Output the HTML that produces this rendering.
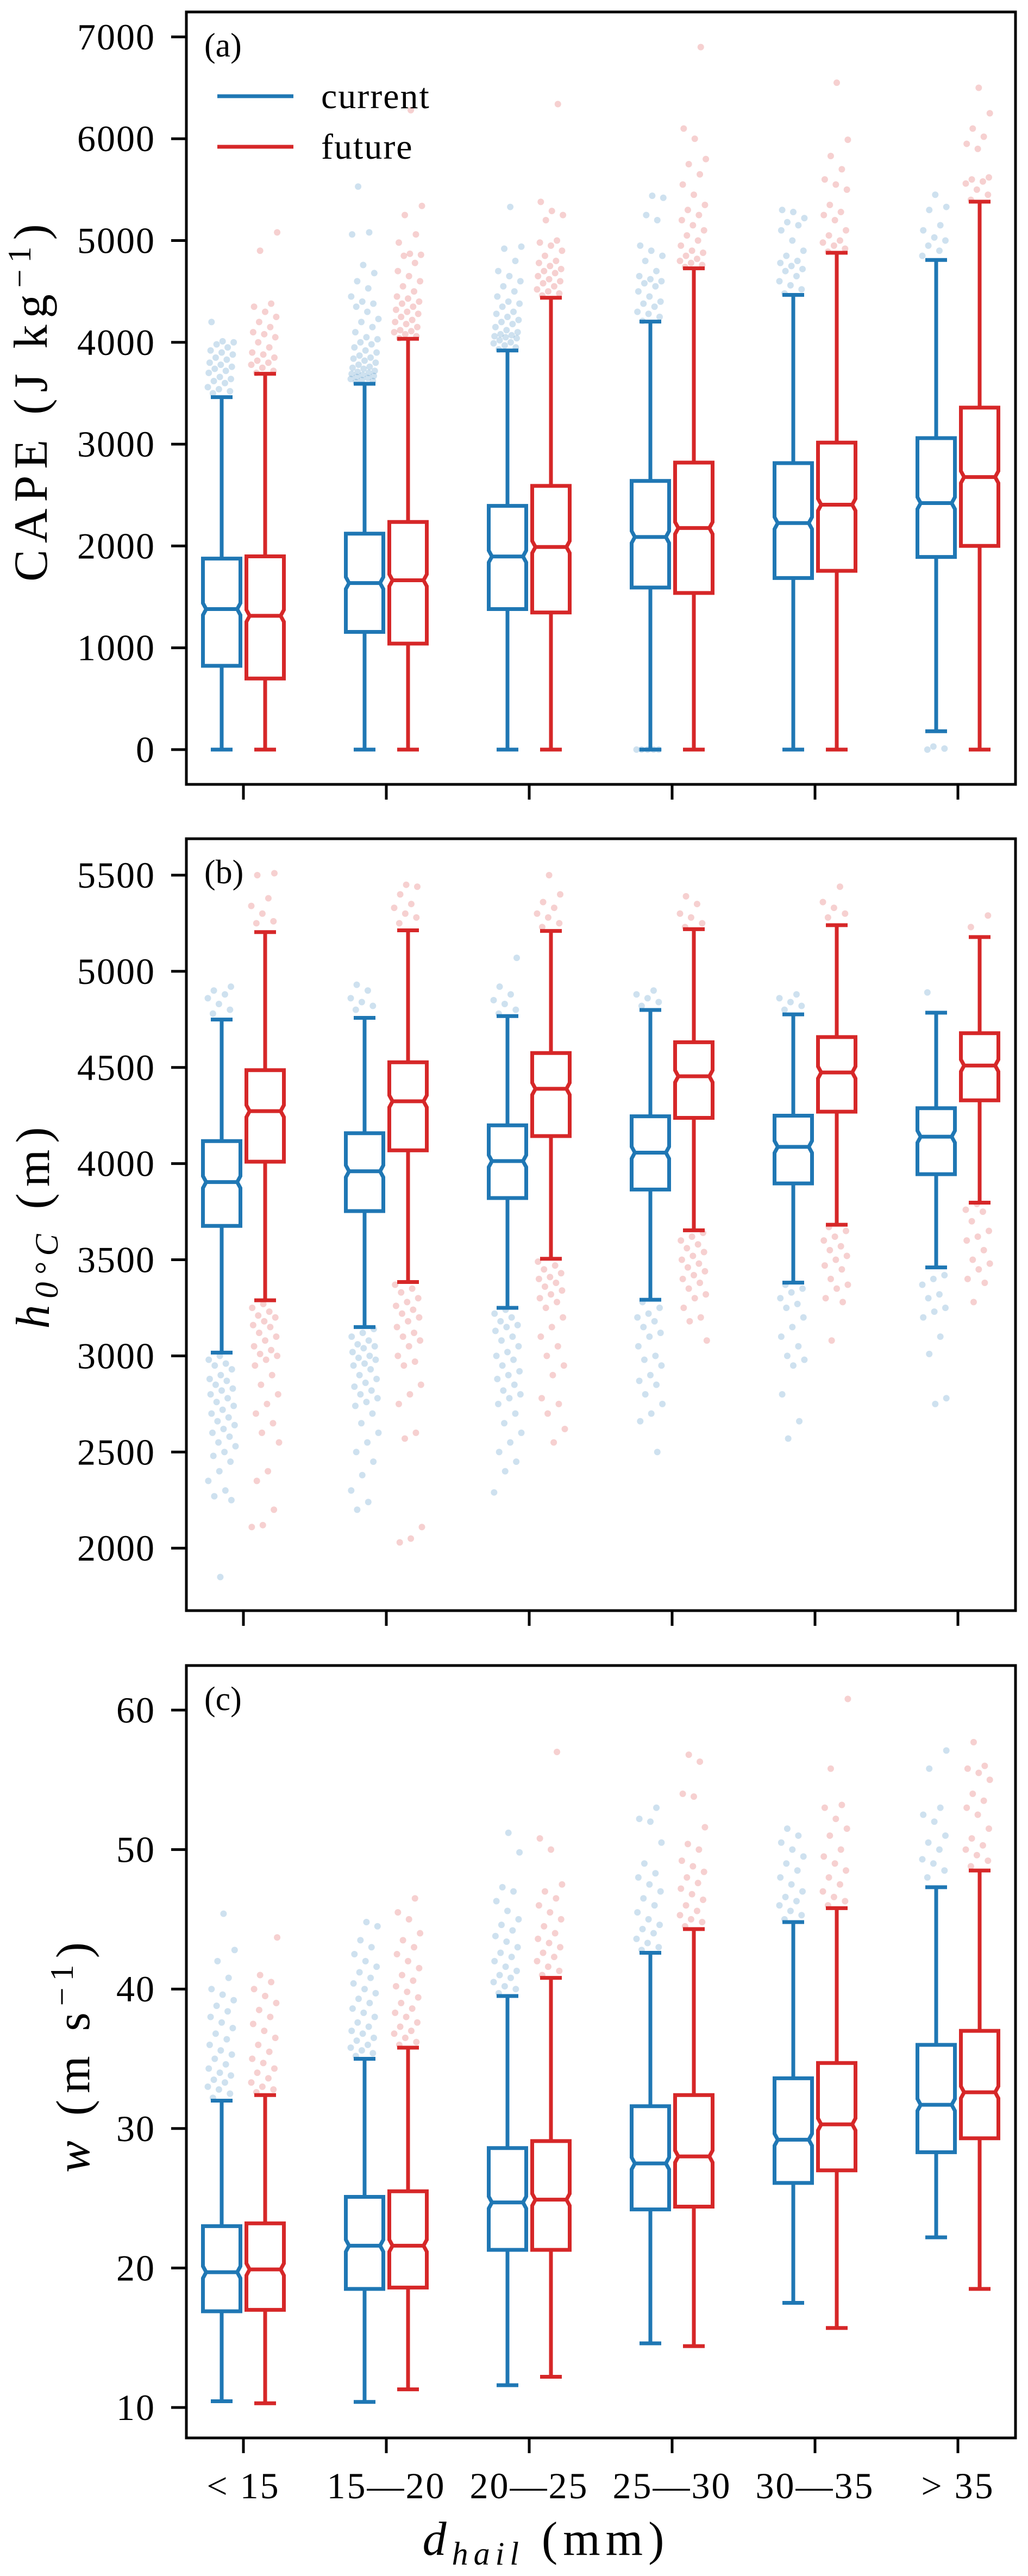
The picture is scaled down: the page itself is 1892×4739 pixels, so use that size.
<!DOCTYPE html>
<html><head><meta charset="utf-8"><style>
html,body{margin:0;padding:0;background:#fff}
svg{display:block;font-family:"Liberation Serif",serif}
</style></head><body>
<svg id="fig" width="1892" height="4739" viewBox="0 0 1892 4739" xmlns="http://www.w3.org/2000/svg">
<rect width="1892" height="4739" fill="#fff"/>
</svg>
<script>
const categories = ["< 15","15\u201420","20\u201425","25\u201430","30\u201435","> 35"];
// [whisker low, Q1, median, Q3, whisker high] per category
const capeCurrent = [[0,823,1380,1876,3462],[0,1156,1636,2121,3593],[0,1380,1897,2394,3920],[0,1592,2088,2639,4204],[0,1685,2225,2814,4466],[180,1892,2421,3059,4809]];
const capeFuture = [[0,698,1314,1898,3691],[0,1041,1663,2236,4035],[0,1347,1990,2590,4438],[0,1538,2176,2819,4727],[0,1756,2405,3015,4880],[0,2001,2677,3359,5382]];
const frzCurrent = [[3017,3676,3904,4117,4749],[3150,3753,3960,4158,4758],[3250,3821,4013,4199,4767],[3292,3865,4057,4246,4799],[3381,3897,4087,4249,4776],[3460,3945,4140,4288,4785]];
const frzFuture = [[3289,4010,4273,4486,5204],[3384,4069,4324,4527,5213],[3505,4143,4389,4575,5210],[3653,4238,4454,4631,5219],[3682,4270,4474,4658,5240],[3797,4329,4510,4678,5178]];
const wCurrent = [[10.45,16.9,19.7,23.0,32.0],[10.4,18.5,21.6,25.1,35.0],[11.6,21.3,24.7,28.6,39.5],[14.6,24.2,27.5,31.6,42.6],[17.5,26.1,29.2,33.6,44.8],[22.2,28.3,31.7,36.0,47.3]];
const wFuture = [[10.3,17.0,19.9,23.2,32.4],[11.3,18.6,21.6,25.5,35.8],[12.2,21.3,24.9,29.1,40.8],[14.4,24.4,28.0,32.4,44.3],[15.7,27.0,30.3,34.7,45.8],[18.5,29.3,32.6,37.0,48.5]];

const capeOutCurrent = [[3500,3520,3540,3560,3600,3620,3640,3660,3700,3720,3740,3760,3780,3800,3830,3850,3880,3900,3920,3950,3980,4000,4010,4200],
[3610,3620,3630,3640,3650,3660,3670,3680,3690,3700,3710,3720,3740,3750,3760,3780,3800,3820,3840,3850,3870,3900,3920,3950,3980,4000,4030,4050,4100,4150,4200,4230,4300,4350,4380,4400,4450,4530,4600,4680,4760,5060,5080,5530],
[3930,3950,3970,3990,4000,4020,4040,4050,4060,4070,4080,4100,4120,4150,4180,4200,4220,4250,4280,4300,4350,4380,4400,4450,4500,4550,4600,4650,4700,4800,4920,4940,5330],
[0,0,0,0,0,4210,4250,4280,4300,4350,4380,4400,4450,4500,4550,4580,4600,4620,4650,4700,4800,4850,4900,4950,5200,5250,5420,5440],
[4480,4520,4560,4600,4650,4700,4720,4750,4780,4800,4850,4900,5000,5100,5150,5180,5220,5280,5300],
[0,10,30,4850,4900,4950,5000,5030,5100,5150,5300,5330,5450]];
const capeOutFuture = [[3700,3720,3750,3780,3800,3820,3850,3880,3900,3950,4000,4050,4080,4100,4150,4200,4250,4300,4350,4380,4900,5080],
[4040,4060,4080,4100,4110,4120,4150,4180,4200,4220,4250,4280,4300,4320,4350,4380,4400,4430,4450,4500,4550,4600,4650,4700,4780,4850,4860,4870,4980,5060,5250,5340,6280],
[4460,4480,4500,4520,4550,4580,4600,4620,4650,4680,4700,4720,4750,4780,4800,4850,4900,4950,4980,5000,5200,5250,5290,5380,6340],
[4740,4760,4780,4800,4820,4850,4880,4900,4950,5000,5050,5100,5150,5200,5250,5300,5350,5450,5550,5650,5750,5800,6000,6100,6900],
[4890,4920,4950,4980,5000,5050,5100,5200,5250,5280,5350,5500,5550,5600,5700,5830,5990,6550],
[5400,5450,5500,5560,5580,5600,5620,5900,5950,6020,6100,6250,6500]];
const frzOutCurrent = [[4780,4800,4830,4860,4880,4900,4920,3000,2980,2960,2950,2930,2900,2880,2870,2850,2830,2820,2800,2780,2760,2740,2720,2700,2680,2660,2640,2620,2600,2580,2550,2530,2500,2480,2450,2400,2350,2300,2270,2250,1850],
[4800,4820,4840,4860,4900,4930,3140,3120,3100,3080,3060,3050,3040,3020,3000,2990,2980,2960,2950,2930,2900,2880,2860,2840,2820,2800,2780,2760,2740,2700,2650,2600,2550,2500,2450,2380,2300,2240,2200],
[4780,4800,4830,4850,4880,4920,5070,3240,3220,3200,3180,3160,3150,3130,3100,3080,3050,3020,3000,2980,2950,2920,2900,2880,2850,2820,2800,2780,2750,2700,2650,2600,2550,2500,2450,2400,2290],
[4820,4840,4860,4880,4900,3280,3250,3220,3200,3180,3150,3120,3100,3050,3000,2980,2950,2900,2870,2850,2800,2750,2700,2660,2500],
[4800,4820,4840,4860,4880,3370,3350,3330,3300,3270,3250,3200,3150,3100,3050,3000,2980,2950,2800,2660,2570],
[4890,3420,3400,3370,3320,3300,3250,3230,3200,3100,3010,2780,2750]];
const frzOutFuture = [[5250,5260,5300,5340,5380,5500,5510,3270,3250,3230,3210,3200,3180,3160,3150,3120,3100,3080,3050,3030,3010,3000,2980,2950,2900,2850,2800,2750,2700,2650,2600,2550,2400,2350,2200,2120,2110],
[5250,5280,5300,5330,5350,5400,5440,5450,3370,3350,3330,3300,3280,3260,3240,3220,3200,3180,3150,3120,3100,3080,3050,3000,2970,2950,2850,2800,2750,2600,2570,2110,2050,2030],
[5230,5250,5280,5300,5330,5360,5400,5500,3490,3470,3450,3430,3410,3400,3380,3360,3340,3320,3300,3280,3250,3200,3150,3100,3050,3000,2950,2900,2780,2750,2700,2620,2550],
[5230,5250,5280,5300,5350,5390,3640,3620,3600,3580,3560,3540,3520,3500,3480,3460,3440,3420,3400,3380,3350,3320,3300,3250,3200,3180,3080],
[5280,5300,5330,5360,5440,3670,3650,3620,3600,3570,3550,3520,3500,3470,3450,3400,3370,3350,3300,3280,3080],
[5230,5290,3790,3760,3750,3700,3650,3620,3600,3550,3500,3480,3450,3400,3380,3280]];
const wOutCurrent = [[32.2,32.5,32.8,33,33.3,33.5,33.8,34,34.3,34.6,35,35.3,35.6,36,36.4,36.8,37.2,37.6,38,38.4,38.8,39.2,39.6,40,40.8,42,42.8,45.4],
[35.2,35.4,35.6,35.8,36,36.3,36.5,36.8,37,37.3,37.6,38,38.3,38.6,39,39.3,39.7,40,40.4,40.8,41.2,41.6,42,42.5,43,43.5,44.5,44.8],
[39.7,40,40.2,40.5,40.8,41,41.3,41.6,42,42.3,42.6,43,43.4,43.8,44.2,44.6,45,45.6,46.3,47,47.3,49.8,51.2],
[42.8,43,43.3,43.6,44,44.3,44.6,45,45.5,46,46.5,47,47.5,48,48.3,49,50.5,52,52.2,53],
[45,45.3,45.6,46,46.3,46.6,47,47.5,48,48.5,49,49.5,50,50.5,51,51.5],
[48,48.5,49,49.3,50,50.5,51,52,52.5,53,55.8,57.1]];
const wOutFuture = [[32.6,32.8,33,33.3,33.6,34,34.3,34.7,35,35.5,36,36.5,37,37.5,38,38.5,39,39.5,40,40.5,41,43.7],
[36,36.2,36.5,36.8,37,37.3,37.6,38,38.3,38.6,39,39.4,39.8,40.2,40.6,41,41.5,42,42.5,43,43.5,44,45,45.5,46.5],
[41,41.3,41.6,42,42.3,42.6,43,43.3,43.6,44,44.5,45,45.5,46,46.5,47,47.5,50,50.8,57],
[44.5,44.8,45,45.3,45.6,46,46.4,46.8,47.2,47.6,48,48.4,48.8,49.2,50,50.4,51.6,53.8,54,56.3,56.8],
[46,46.3,46.6,47,47.5,48,48.5,49,49.5,50,51,51.5,52.2,53,53.2,55.8,60.8],
[48.8,49.2,49.6,50,50.3,50.8,51.5,52.5,53,53.5,54,55,55.5,55.8,56,57.7]];

const capeTicks = [0,1000,2000,3000,4000,5000,6000,7000];
const frzTicks = [2000,2500,3000,3500,4000,4500,5000,5500];
const wTicks = [10,20,30,40,50,60];

const NS = "http://www.w3.org/2000/svg";
const svg = document.getElementById("fig");
const BLUE = "#1f77b4", RED = "#d62728";
const X0 = 343, X1 = 1869;
function xCat(i){ return 448 + i*263; }
function mk(tag, attrs, parent){
  const e = document.createElementNS(NS, tag);
  for (const k in attrs) e.setAttribute(k, attrs[k]);
  (parent||svg).appendChild(e);
  return e;
}
const panels = [
  {key:"cape", top:22, bot:1443, y:v=>1379 - v*0.1873, ticks:capeTicks, cur:capeCurrent, fut:capeFuture, oc:capeOutCurrent, of:capeOutFuture, label:"(a)"},
  {key:"freezing-level", top:1543, bot:2963, y:v=>1610 + (5500-v)*0.35376, ticks:frzTicks, cur:frzCurrent, fut:frzFuture, oc:frzOutCurrent, of:frzOutFuture, label:"(b)"},
  {key:"updraft", top:3064, bot:4485, y:v=>3146 + (60-v)*25.66, ticks:wTicks, cur:wCurrent, fut:wFuture, oc:wOutCurrent, of:wOutFuture, label:"(c)"}
];
function drawBox(g, st, cx, color, y, name){
  const w = 69, L = cx - w/2, R = cx + w/2, ins = 6, n = 11;
  const lo = y(st[0]), q1 = y(st[1]), md = y(st[2]), q3 = y(st[3]), hi = y(st[4]);
  const grp = mk("g", {}, g);
  
  
  mk("line", {x1:cx, y1:q3, x2:cx, y2:hi, stroke:color, "stroke-width":7}, grp);
  mk("line", {x1:cx, y1:q1, x2:cx, y2:lo, stroke:color, "stroke-width":7}, grp);
  mk("line", {x1:cx-20, y1:hi, x2:cx+20, y2:hi, stroke:color, "stroke-width":7}, grp);
  mk("line", {x1:cx-20, y1:lo, x2:cx+20, y2:lo, stroke:color, "stroke-width":7}, grp);
  const pts = [[L,q3],[R,q3],[R,md-n],[R-ins,md],[R,md+n],[R,q1],[L,q1],[L,md+n],[L+ins,md],[L,md-n]];
  mk("polygon", {points:pts.map(p=>p.join(",")).join(" "), fill:"#fff", stroke:color, "stroke-width":7, "stroke-linejoin":"miter"}, grp);
  mk("line", {x1:L+ins, y1:md, x2:R-ins, y2:md, stroke:color, "stroke-width":7}, grp);
}
function drawOut(g, vals, cx, color, y, name){
  const grp = mk("g", {}, g);
  
  
  vals.forEach((v,i)=>{
    const jit = (((i*37 + 11) % 61) - 30) * 0.85;
    const c = mk("circle", {cx:cx + jit, cy:y(v), r:6, fill:color, "fill-opacity":0.22}, grp);
    
    
  });
}
panels.forEach((p, pi)=>{
  const g = mk("g", {});
  
  
  categories.forEach((c,i)=>{
    drawOut(g, p.oc[i], xCat(i)-40, BLUE, p.y, 'outliers-current-' + i);
    drawOut(g, p.of[i], xCat(i)+40, RED, p.y, 'outliers-future-' + i);
  });
  categories.forEach((c,i)=>{
    drawBox(g, p.cur[i], xCat(i)-40, BLUE, p.y, 'box-current-' + i);
    drawBox(g, p.fut[i], xCat(i)+40, RED, p.y, 'box-future-' + i);
  });
  const fr = mk("rect", {x:X0, y:p.top, width:X1-X0, height:p.bot-p.top, fill:"none", stroke:"#000", "stroke-width":5}, g);
  
  
  p.ticks.forEach(t=>{
    const ty = p.y(t);
    const tl = mk("line", {x1:X0-28, y1:ty, x2:X0, y2:ty, stroke:"#000", "stroke-width":5}, g);
    
    
    const tx = mk("text", {x:286, y:ty+23, "text-anchor":"end", "font-size":68, "letter-spacing":2, fill:"#000"}, g);
    tx.textContent = t;
    
    
  });
  categories.forEach((c,i)=>{
    const tl = mk("line", {x1:xCat(i), y1:p.bot, x2:xCat(i), y2:p.bot+28, stroke:"#000", "stroke-width":5}, g);
    
    
    if (pi === 2){
      const tx = mk("text", {x:xCat(i), y:4596, "text-anchor":"middle", "font-size":68, "letter-spacing":3, fill:"#000"}, g);
      tx.textContent = c;
      
      
    }
  });
  const pl = mk("text", {x:376, y:p.top+82, "font-size":62, fill:"#000"}, g);
  pl.textContent = p.label;
  
  
});
</script>
<svg style="position:absolute;left:0;top:0" width="1892" height="4739">
  <g font-family="Liberation Serif, serif" font-size="66" letter-spacing="2">
    <line x1="400" y1="177" x2="540" y2="177" stroke="#1f77b4" stroke-width="7"/>
    <text x="591" y="199">current</text>
    <line x1="400" y1="270" x2="540" y2="270" stroke="#d62728" stroke-width="7"/>
    <text x="591" y="292">future</text>
  </g>
  <text transform="translate(86,735) rotate(-90)" text-anchor="middle" font-family="Liberation Serif, serif" font-size="88" letter-spacing="12">CAPE (J kg<tspan dy="-30" font-size="60">−1</tspan><tspan dy="30">)</tspan></text>
  <text transform="translate(90,2253) rotate(-90)" text-anchor="middle" font-family="Liberation Serif, serif" font-size="88" letter-spacing="12"><tspan font-style="italic">h</tspan><tspan dy="16" font-size="60" font-style="italic">0°C</tspan><tspan dy="-16"> (m)</tspan></text>
  <text transform="translate(164,3779) rotate(-90)" text-anchor="middle" font-family="Liberation Serif, serif" font-size="88" letter-spacing="12"><tspan font-style="italic">w</tspan> (m s<tspan dy="-30" font-size="60">−1</tspan><tspan dy="30">)</tspan></text>
  <text x="1005" y="4700" text-anchor="middle" font-family="Liberation Serif, serif" font-size="88" letter-spacing="10"><tspan font-style="italic">d</tspan><tspan dy="18" font-size="60" font-style="italic">hail</tspan><tspan dy="-18"> (mm)</tspan></text>
</svg>
</body></html>
